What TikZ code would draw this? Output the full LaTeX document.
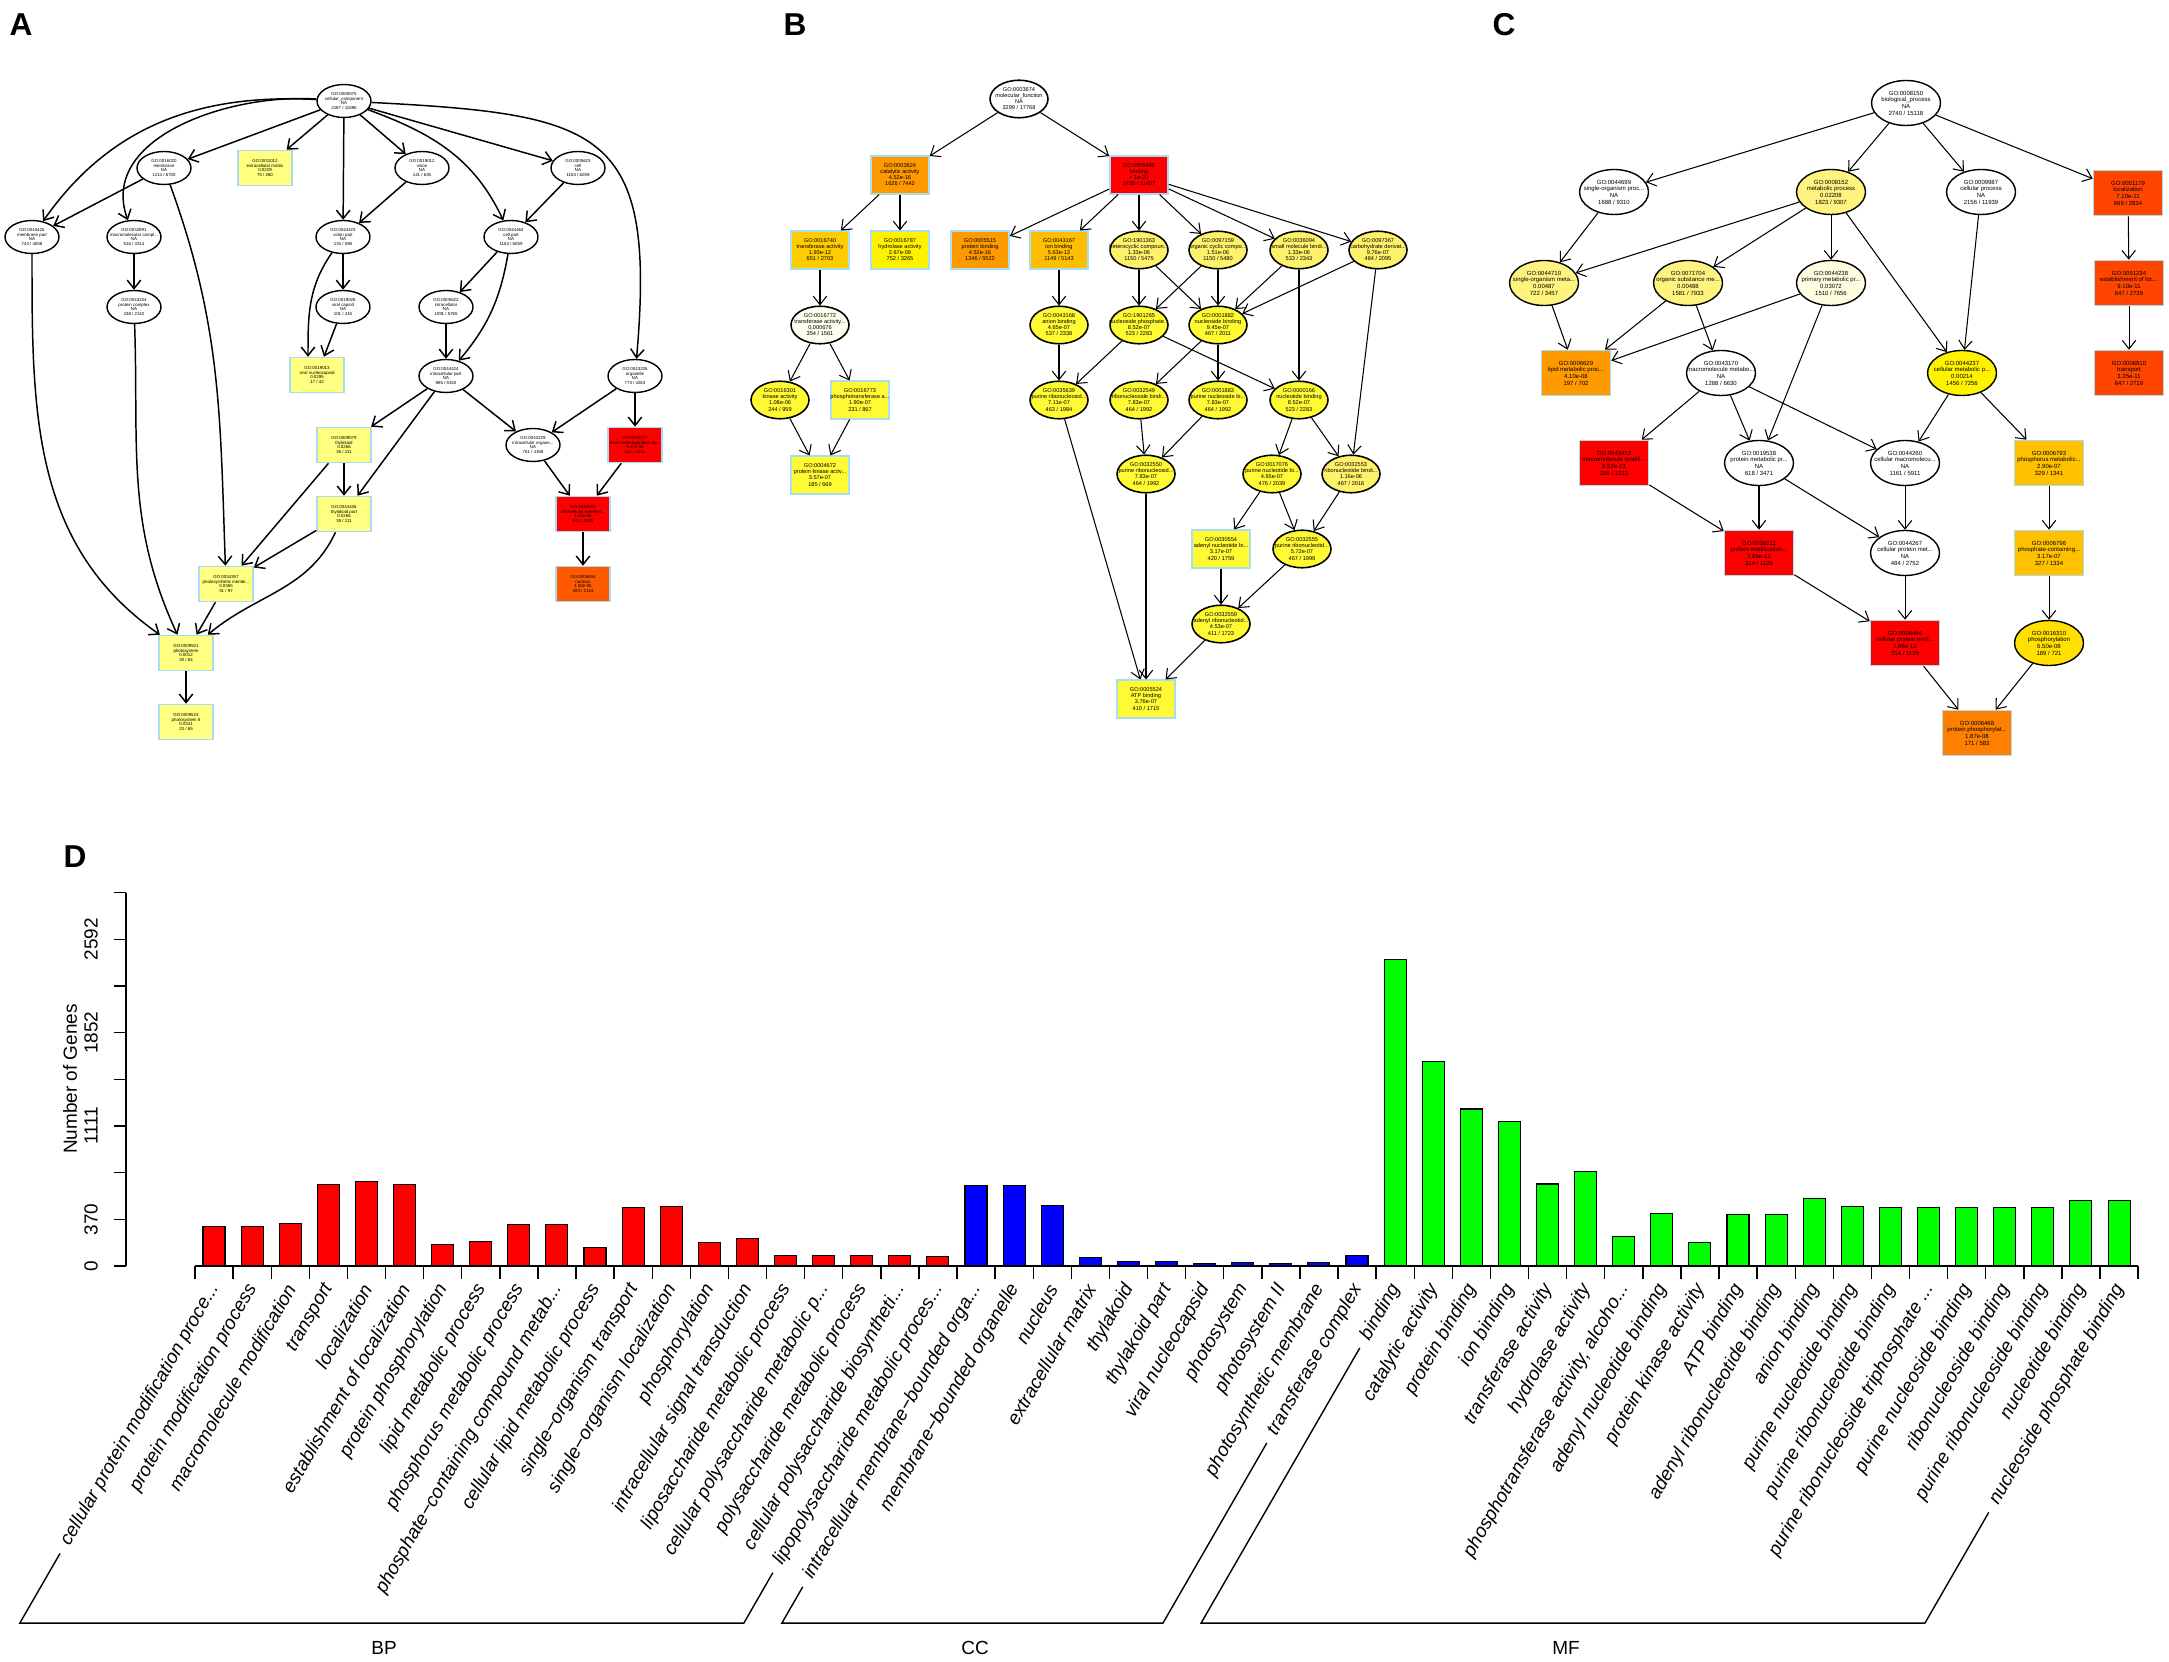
\documentclass[tikz,border=0pt]{standalone}
\usepackage{fontspec}
\setmainfont{Liberation Sans}
\usetikzlibrary{shapes.geometric,arrows.meta,calc}

\definecolor{boxline}{HTML}{A8DCF0}
\definecolor{yA}{HTML}{FFFF80}
\definecolor{nucA}{HTML}{FF5A00}
\definecolor{orB}{HTML}{FF9900}
\definecolor{goldB}{HTML}{FFCC00}
\definecolor{ambB}{HTML}{FFBF00}
\definecolor{ltB}{HTML}{FFF26B}
\definecolor{yB}{HTML}{FFFA33}
\definecolor{paleB}{HTML}{FFFFEE}
\definecolor{ltC}{HTML}{FFF37F}
\definecolor{paleC}{HTML}{FFFDE0}
\definecolor{yC}{HTML}{FFF200}
\definecolor{phC}{HTML}{FFE000}
\definecolor{locC}{HTML}{FF4500}
\definecolor{phosC}{HTML}{FFC000}
\definecolor{ppC}{HTML}{FF8000}
\definecolor{barBP}{HTML}{FF0000}
\definecolor{barCC}{HTML}{0000FF}
\definecolor{barMF}{HTML}{00FF00}
\newcommand{\trunc}{...}

\begin{document}
\begin{tikzpicture}[x=0.1mm, y=-0.1mm,
    >={Straight Barb[length=0.85mm,width=1.35mm]},
    gell/.style={ellipse, draw=black, inner sep=0pt},
    gbox/.style={rectangle, draw=boxline, line width=0.45pt, inner sep=0pt},
    ellA/.style={gell, line width=0.4pt, minimum width=5.4mm, minimum height=3.3mm},
    boxA/.style={gbox, minimum width=5.4mm, minimum height=3.5mm},
    ellB/.style={gell, line width=0.45pt, minimum width=5.8mm, minimum height=3.75mm},
    boxB/.style={gbox, minimum width=5.8mm, minimum height=3.75mm},
    ellC/.style={gell, line width=0.4pt, minimum width=6.9mm, minimum height=4.5mm},
    boxC/.style={gbox, minimum width=6.9mm, minimum height=4.5mm},
    tA/.style={font=\fontsize{1.25}{1.34}\selectfont, align=center, inner sep=0pt},
    tB/.style={font=\fontsize{1.6}{1.72}\selectfont, align=center, inner sep=0pt},
    tC/.style={font=\fontsize{1.7}{1.9}\selectfont, align=center, inner sep=0pt},
    eA/.style={->, line width=0.42pt},
    eB/.style={->, line width=0.3pt},
    panel/.style={font=\fontsize{9}{9}\selectfont\bfseries, inner sep=0pt},
    axln/.style={line width=0.4pt},
    axtxt/.style={font=\fontsize{5.4}{6}\selectfont, inner sep=0pt},
    barout/.style={draw=black, line width=0.3pt},
    barlbl/.style={rotate=60, anchor=east, inner sep=0pt, font=\fontsize{5.4}{6}\selectfont\itshape},
    bracket/.style={line width=0.4pt}]
  \useasboundingbox (0,0) rectangle (2169,1662);
  \fill[white] (0,0) rectangle (2169,1662);

  % panel A: cellular component
  \node[panel] (pA) at (21,25) {A};
  \node[ellA, fill=white, label={[tA]center:{GO:0005575\\cellular\_component\\NA\\2187 / 11895}}] (ccroot) at (344,101) {};
  \node[ellA, fill=white, label={[tA]center:{GO:0016020\\membrane\\NA\\1214 / 6700}}] (membrane) at (164,168) {};
  \node[boxA, fill=yA, label={[tA]center:{GO:0031012\\extracellular matrix\\0.0229\\70 / 260}}] (exmatrix) at (265,168) {};
  \node[ellA, fill=white, label={[tA]center:{GO:0019012\\virion\\NA\\141 / 635}}] (virion) at (422,168) {};
  \node[ellA, fill=white, label={[tA]center:{GO:0005623\\cell\\NA\\1163 / 6059}}] (cell) at (578,168) {};
  \node[ellA, fill=white, label={[tA]center:{GO:0044425\\membrane part\\NA\\744 / 4838}}] (mempart) at (32,237) {};
  \node[ellA, fill=white, label={[tA]center:{GO:0032991\\macromolecular compl...\\NA\\516 / 3314}}] (macrocomp) at (134,237) {};
  \node[ellA, fill=white, label={[tA]center:{GO:0044423\\virion part\\NA\\133 / 598}}] (virpart) at (343,237) {};
  \node[ellA, fill=white, label={[tA]center:{GO:0044464\\cell part\\NA\\1163 / 6059}}] (cellpart) at (511,237) {};
  \node[ellA, fill=white, label={[tA]center:{GO:0043234\\protein complex\\NA\\438 / 2142}}] (protcomp) at (134,307) {};
  \node[ellA, fill=white, label={[tA]center:{GO:0019028\\viral capsid\\NA\\101 / 415}}] (capsid) at (343,307) {};
  \node[ellA, fill=white, label={[tA]center:{GO:0005622\\intracellular\\NA\\1091 / 5765}}] (intra) at (446,307) {};
  \node[boxA, fill=yA, label={[tA]center:{GO:0019013\\viral nucleocapsid\\0.0295\\17 / 42}}] (nucleocap) at (317,375) {};
  \node[ellA, fill=white, label={[tA]center:{GO:0044424\\intracellular part\\NA\\985 / 5150}}] (intrapart) at (446,376) {};
  \node[ellA, fill=white, label={[tA]center:{GO:0043226\\organelle\\NA\\773 / 4263}}] (organelle) at (635,376) {};
  \node[boxA, fill=yA, label={[tA]center:{GO:0009579\\thylakoid\\0.0266\\35 / 111}}] (thyl) at (344,445) {};
  \node[ellA, fill=white, label={[tA]center:{GO:0043229\\intracellular organe...\\NA\\761 / 4198}}] (intraorg) at (533,445) {};
  \node[boxA, fill=red, label={[tA]center:{GO:0043227\\membrane-bounded org...\\9.37e-06\\641 / 2881}}] (membound) at (635,445) {};
  \node[boxA, fill=yA, label={[tA]center:{GO:0044436\\thylakoid part\\0.0266\\35 / 111}}] (thylpart) at (344,514) {};
  \node[boxA, fill=red, label={[tA]center:{GO:0043231\\intracellular membra...\\1.34e-06\\641 / 2880}}] (intramem) at (583,514) {};
  \node[boxA, fill=yA, label={[tA]center:{GO:0034357\\photosynthetic membr...\\0.0365\\31 / 97}}] (photomem) at (226,584) {};
  \node[boxA, fill=nucA, label={[tA]center:{GO:0005634\\nucleus\\1.50e-05\\483 / 2144}}] (nucleus) at (583,584) {};
  \node[boxA, fill=yA, label={[tA]center:{GO:0009521\\photosystem\\0.0012\\28 / 84}}] (psys) at (186,653) {};
  \node[boxA, fill=yA, label={[tA]center:{GO:0009523\\photosystem II\\0.0341\\23 / 65}}] (psys2) at (186,722) {};

  \draw[eA] (ccroot) to[out=177,in=55] (mempart);
  \draw[eA] (ccroot) to[out=176,in=110] (macrocomp);
  \draw[eA] (ccroot) -- (membrane);
  \draw[eA] (ccroot) -- (exmatrix);
  \draw[eA] (ccroot) -- (virpart);
  \draw[eA] (ccroot) -- (virion);
  \draw[eA] (ccroot) to[out=-20,in=115] (cellpart);
  \draw[eA] (ccroot) -- (cell);
  \draw[eA] (ccroot) to[out=-3,in=85,looseness=1.6] (organelle);
  \draw[eA] (membrane) -- (mempart);
  \draw[eA] (membrane) to[out=-70,in=92] (photomem);
  \draw[eA] (mempart) to[out=-90,in=145] (psys);
  \draw[eA] (macrocomp) -- (protcomp);
  \draw[eA] (protcomp) to[out=-88,in=115] (psys);
  \draw[eA] (virion) -- (virpart);
  \draw[eA] (virpart) -- (capsid);
  \draw[eA] (virpart) to[out=-125,in=90] ([xshift=-0.9mm]nucleocap.north);
  \draw[eA] (capsid) -- (nucleocap);
  \draw[eA] (cell) -- (cellpart);
  \draw[eA] (cellpart) -- (intra);
  \draw[eA] (cellpart) to[out=-100,in=50] (intrapart);
  \draw[eA] (intra) -- (intrapart);
  \draw[eA] (intrapart) -- (thyl);
  \draw[eA] (intrapart) -- (thylpart);
  \draw[eA] (intrapart) -- (intraorg);
  \draw[eA] (organelle) -- (intraorg);
  \draw[eA] (organelle) -- (membound);
  \draw[eA] (thyl) -- (thylpart);
  \draw[eA] (thyl) -- (photomem);
  \draw[eA] (thylpart) -- (photomem);
  \draw[eA] (thylpart) to[out=-115,in=40] (psys);
  \draw[eA] (photomem) -- (psys);
  \draw[eA] (psys) -- (psys2);
  \draw[eA] (intraorg) -- (intramem);
  \draw[eA] (membound) -- (intramem);
  \draw[eA] (intramem) -- (nucleus);

  % panel B: molecular function
  \node[panel] (pB) at (795,25) {B};
  \node[ellB, fill=white, label={[tB]center:{GO:0003674\\molecular\_function\\NA\\3299 / 17768}}] (mfroot) at (1019,99) {};
  \node[boxB, fill=orB, label={[tB]center:{GO:0003824\\catalytic activity\\4.52e-16\\1626 / 7442}}] (catal) at (900,175) {};
  \node[boxB, fill=red, label={[tB]center:{GO:0005488\\binding\\< 1e-20\\2430 / 11407}}] (bind) at (1139,175) {};
  \node[boxB, fill=goldB, label={[tB]center:{GO:0016740\\transferase activity\\1.93e-12\\651 / 2703}}] (transf) at (820,250) {};
  \node[boxB, fill=yellow, label={[tB]center:{GO:0016787\\hydrolase activity\\2.67e-09\\752 / 3265}}] (hydro) at (900,250) {};
  \node[boxB, fill=orB, label={[tB]center:{GO:0005515\\protein binding\\4.52e-16\\1246 / 5522}}] (protbind) at (980,250) {};
  \node[boxB, fill=ambB, label={[tB]center:{GO:0043167\\ion binding\\5.63e-13\\1149 / 5143}}] (ionbind) at (1059,250) {};
  \node[ellB, fill=ltB, label={[tB]center:{GO:1901363\\heterocyclic compoun...\\1.33e-06\\1150 / 5475}}] (hetero) at (1139,250) {};
  \node[ellB, fill=ltB, label={[tB]center:{GO:0097159\\organic cyclic compo...\\1.51e-06\\1150 / 5480}}] (orgcyc) at (1218,250) {};
  \node[ellB, fill=ltB, label={[tB]center:{GO:0036094\\small molecule bindi...\\1.33e-06\\533 / 2343}}] (smallmol) at (1299,250) {};
  \node[ellB, fill=ltB, label={[tB]center:{GO:0097367\\carbohydrate derivat...\\9.76e-07\\484 / 2095}}] (carbo) at (1378,250) {};
  \node[ellB, fill=paleB, label={[tB]center:{GO:0016772\\transferase activity...\\0.000676\\354 / 1561}}] (transf2) at (820,325) {};
  \node[ellB, fill=yB, label={[tB]center:{GO:0043168\\anion binding\\4.65e-07\\537 / 2338}}] (anion) at (1059,325) {};
  \node[ellB, fill=yB, label={[tB]center:{GO:1901265\\nucleoside phosphate...\\8.52e-07\\523 / 2283}}] (nucphos) at (1139,325) {};
  \node[ellB, fill=yB, label={[tB]center:{GO:0001882\\nucleoside binding\\9.45e-07\\467 / 2011}}] (nucsbind) at (1218,325) {};
  \node[ellB, fill=yB, label={[tB]center:{GO:0016301\\kinase activity\\1.08e-06\\244 / 959}}] (kinase) at (780,400) {};
  \node[boxB, fill=yB, label={[tB]center:{GO:0016773\\phosphotransferase a...\\1.90e-07\\231 / 867}}] (phostr) at (860,400) {};
  \node[ellB, fill=yB, label={[tB]center:{GO:0035639\\purine ribonucleosid...\\7.11e-07\\463 / 1984}}] (purribs) at (1059,400) {};
  \node[ellB, fill=yB, label={[tB]center:{GO:0032549\\ribonucleoside bindi...\\7.83e-07\\464 / 1992}}] (ribsbind) at (1139,400) {};
  \node[ellB, fill=yB, label={[tB]center:{GO:0001883\\purine nucleoside bi...\\7.83e-07\\464 / 1992}}] (purnucs) at (1218,400) {};
  \node[ellB, fill=yB, label={[tB]center:{GO:0000166\\nucleotide binding\\8.52e-07\\523 / 2283}}] (nuctbind) at (1299,400) {};
  \node[boxB, fill=yB, label={[tB]center:{GO:0004672\\protein kinase activ...\\3.57e-07\\185 / 669}}] (protkin) at (820,475) {};
  \node[ellB, fill=yB, label={[tB]center:{GO:0032550\\purine ribonucleosid...\\7.83e-07\\464 / 1992}}] (purribs2) at (1146,474) {};
  \node[ellB, fill=yB, label={[tB]center:{GO:0017076\\purine nucleotide bi...\\4.65e-07\\476 / 2039}}] (purnuct) at (1272,474) {};
  \node[ellB, fill=ltB, label={[tB]center:{GO:0032553\\ribonucleotide bindi...\\1.16e-06\\467 / 2016}}] (ribtbind) at (1351,474) {};
  \node[boxB, fill=yB, label={[tB]center:{GO:0030554\\adenyl nucleotide bi...\\3.17e-07\\420 / 1759}}] (adenyl) at (1221,549) {};
  \node[ellB, fill=yB, label={[tB]center:{GO:0032555\\purine ribonucleotid...\\5.72e-07\\467 / 1999}}] (purribt) at (1302,549) {};
  \node[ellB, fill=yB, label={[tB]center:{GO:0032559\\adenyl ribonucleotid...\\4.53e-07\\411 / 1723}}] (adenylr) at (1221,624) {};
  \node[boxB, fill=yB, label={[tB]center:{GO:0005524\\ATP binding\\3.76e-07\\410 / 1715}}] (atp) at (1146,699) {};

  \draw[eB] (mfroot) -- (catal);
  \draw[eB] (mfroot) -- (bind);
  \draw[eB] (catal) -- (transf);
  \draw[eB] (catal) -- (hydro);
  \draw[eB] (transf) -- (transf2);
  \draw[eB] (transf2) -- (kinase);
  \draw[eB] (transf2) -- (phostr);
  \draw[eB] (kinase) -- (protkin);
  \draw[eB] (phostr) -- (protkin);
  \draw[eB] (bind) -- (protbind);
  \draw[eB] (bind) -- (ionbind);
  \draw[eB] (bind) -- (hetero);
  \draw[eB] (bind) -- (orgcyc);
  \draw[eB] (bind) -- (smallmol);
  \draw[eB] (bind) -- (carbo);
  \draw[eB] (ionbind) -- (anion);
  \draw[eB] (hetero) -- (nucphos);
  \draw[eB] (hetero) -- (nucsbind);
  \draw[eB] (orgcyc) -- (nucphos);
  \draw[eB] (orgcyc) -- (nucsbind);
  \draw[eB] (smallmol) -- (nucsbind);
  \draw[eB] (smallmol) -- (nuctbind);
  \draw[eB] (carbo) -- (nucsbind);
  \draw[eB] (carbo) -- (ribtbind);
  \draw[eB] (anion) -- (purribs);
  \draw[eB] (nucphos) -- (purribs);
  \draw[eB] (nucphos) -- (nuctbind);
  \draw[eB] (nucsbind) -- (ribsbind);
  \draw[eB] (nucsbind) -- (purnucs);
  \draw[eB] (purribs) -- (atp);
  \draw[eB] (ribsbind) -- (purribs2);
  \draw[eB] (purnucs) -- (purribs2);
  \draw[eB] (nuctbind) -- (purnuct);
  \draw[eB] (nuctbind) -- (ribtbind);
  \draw[eB] (purnuct) -- (adenyl);
  \draw[eB] (purnuct) -- (purribt);
  \draw[eB] (ribtbind) -- (purribt);
  \draw[eB] (adenyl) -- (adenylr);
  \draw[eB] (purribt) -- (adenylr);
  \draw[eB] (purribs2) -- (atp);
  \draw[eB] (adenylr) -- (atp);

  % panel C: biological process
  \node[panel] (pC) at (1504,25) {C};
  \node[ellC, fill=white, label={[tC]center:{GO:0008150\\biological\_process\\NA\\2740 / 15118}}] (bproot) at (1906,103) {};
  \node[ellC, fill=white, label={[tC]center:{GO:0044699\\single-organism proc...\\NA\\1688 / 9310}}] (sorg) at (1614,192) {};
  \node[ellC, fill=ltC, label={[tC]center:{GO:0008152\\metabolic process\\0.02208\\1823 / 9307}}] (metab) at (1831,192) {};
  \node[ellC, fill=white, label={[tC]center:{GO:0009987\\cellular process\\NA\\2156 / 11939}}] (cellproc) at (1981,192) {};
  \node[boxC, fill=locC, label={[tC]center:{GO:0051179\\localization\\7.10e-11\\669 / 2834}}] (loc) at (2128,193) {};
  \node[ellC, fill=ltC, label={[tC]center:{GO:0044710\\single-organism meta...\\0.00487\\722 / 3457}}] (sorgmet) at (1544,283) {};
  \node[ellC, fill=ltC, label={[tC]center:{GO:0071704\\organic substance me...\\0.00488\\1581 / 7933}}] (orgsub) at (1688,283) {};
  \node[ellC, fill=paleC, label={[tC]center:{GO:0044238\\primary metabolic pr...\\0.03072\\1510 / 7656}}] (primet) at (1831,283) {};
  \node[boxC, fill=locC, label={[tC]center:{GO:0051234\\establishment of loc...\\9.10e-11\\647 / 2735}}] (estloc) at (2129,283) {};
  \node[boxC, fill=orB, label={[tC]center:{GO:0006629\\lipid metabolic proc...\\4.10e-08\\197 / 702}}] (lipid) at (1576,373) {};
  \node[ellC, fill=white, label={[tC]center:{GO:0043170\\macromolecule metabo...\\NA\\1288 / 6630}}] (macromet) at (1721,373) {};
  \node[ellC, fill=yC, label={[tC]center:{GO:0044237\\cellular metabolic p...\\0.00214\\1456 / 7256}}] (cellmet) at (1962,373) {};
  \node[boxC, fill=locC, label={[tC]center:{GO:0006810\\transport\\3.35e-11\\647 / 2719}}] (transport) at (2129,373) {};
  \node[boxC, fill=red, label={[tC]center:{GO:0043412\\macromolecule modifi...\\8.52e-13\\336 / 1223}}] (macromod) at (1614,463) {};
  \node[ellC, fill=white, label={[tC]center:{GO:0019538\\protein metabolic pr...\\NA\\618 / 3471}}] (protmet) at (1759,463) {};
  \node[ellC, fill=white, label={[tC]center:{GO:0044260\\cellular macromolecu...\\NA\\1161 / 5911}}] (cellmacro) at (1905,463) {};
  \node[boxC, fill=phosC, label={[tC]center:{GO:0006793\\phosphorus metabolic...\\2.90e-07\\329 / 1341}}] (phosmet) at (2049,463) {};
  \node[boxC, fill=red, label={[tC]center:{GO:0036211\\protein modification...\\7.86e-13\\314 / 1125}}] (protmod) at (1759,553) {};
  \node[ellC, fill=white, label={[tC]center:{GO:0044267\\cellular protein met...\\NA\\484 / 2752}}] (cellprot) at (1905,553) {};
  \node[boxC, fill=phosC, label={[tC]center:{GO:0006796\\phosphate-containing...\\3.17e-07\\327 / 1334}}] (phoscont) at (2049,553) {};
  \node[boxC, fill=red, label={[tC]center:{GO:0006464\\cellular protein mod...\\7.86e-13\\314 / 1125}}] (cellprotmod) at (1905,643) {};
  \node[ellC, fill=phC, label={[tC]center:{GO:0016310\\phosphorylation\\6.50e-08\\189 / 721}}] (phosph) at (2049,643) {};
  \node[boxC, fill=ppC, label={[tC]center:{GO:0006468\\protein phosphorylat...\\1.87e-08\\171 / 583}}] (protphos) at (1977,733) {};

  \draw[eB] (bproot) -- (sorg);
  \draw[eB] (bproot) -- (metab);
  \draw[eB] (bproot) -- (cellproc);
  \draw[eB] (bproot) -- (loc);
  \draw[eB] (sorg) -- (sorgmet);
  \draw[eB] (metab) -- (sorgmet);
  \draw[eB] (metab) -- (orgsub);
  \draw[eB] (metab) -- (primet);
  \draw[eB] (metab) -- (cellmet);
  \draw[eB] (cellproc) -- (cellmet);
  \draw[eB] (loc) -- (estloc);
  \draw[eB] (estloc) -- (transport);
  \draw[eB] (sorgmet) -- (lipid);
  \draw[eB] (orgsub) -- (lipid);
  \draw[eB] (orgsub) -- (macromet);
  \draw[eB] (primet) -- (lipid);
  \draw[eB] (primet) -- (protmet);
  \draw[eB] (macromet) -- (macromod);
  \draw[eB] (macromet) -- (protmet);
  \draw[eB] (macromet) -- (cellmacro);
  \draw[eB] (cellmet) -- (cellmacro);
  \draw[eB] (cellmet) -- (phosmet);
  \draw[eB] (macromod) -- (protmod);
  \draw[eB] (protmet) -- (protmod);
  \draw[eB] (protmet) -- (cellprot);
  \draw[eB] (cellmacro) -- (cellprot);
  \draw[eB] (phosmet) -- (phoscont);
  \draw[eB] (protmod) -- (cellprotmod);
  \draw[eB] (cellprot) -- (cellprotmod);
  \draw[eB] (phoscont) -- (phosph);
  \draw[eB] (cellprotmod) -- (protphos);
  \draw[eB] (phosph) -- (protphos);

  % panel D: bar chart
  \node[panel] (pD) at (75,857) {D};
  \foreach \i/\val in {20/74,19/82,18/87,17/82,16/87,15/217,14/189,13/476,12/466,11/148,
      10/327,9/329,8/197,7/171,6/647,5/669,4/647,3/336,2/314,1/314}
    \draw[barout, fill=barBP] ({214+38.1*(\i-1)-11},1266) rectangle ++(22,{-\val/7.937});
  \foreach \val [count=\i from 21] in {641,641,483,70,35,35,17,28,23,31,82}
    \draw[barout, fill=barCC] ({214+38.1*(\i-1)-11},1266) rectangle ++(22,{-\val/7.937});
  \foreach \val [count=\i from 32] in {2430,1626,1246,1149,651,752,231,420,185,410,411,537,476,467,464,464,464,463,523,523}
    \draw[barout, fill=barMF] ({214+38.1*(\i-1)-11},1266) rectangle ++(22,{-\val/7.937});

  \foreach \lbl [count=\i] in {cellular protein modification proce\trunc,
      protein modification process, macromolecule modification,
      transport, localization, establishment of localization,
      protein phosphorylation, lipid metabolic process,
      phosphorus metabolic process, phosphate−containing compound metab\trunc,
      cellular lipid metabolic process, single−organism transport,
      single−organism localization, phosphorylation,
      intracellular signal transduction, liposaccharide metabolic process,
      cellular polysaccharide metabolic p\trunc, polysaccharide metabolic process,
      cellular polysaccharide biosyntheti\trunc, lipopolysaccharide metabolic proces\trunc,
      intracellular membrane−bounded orga\trunc,
      membrane−bounded organelle, nucleus, extracellular matrix,
      thylakoid, thylakoid part, viral nucleocapsid, photosystem,
      photosystem II, photosynthetic membrane, transferase complex,
      binding, catalytic activity,
      protein binding, ion binding, transferase activity,
      hydrolase activity, {phosphotransferase activity, alcoho\trunc},
      adenyl nucleotide binding, protein kinase activity, ATP binding,
      adenyl ribonucleotide binding, anion binding,
      purine nucleotide binding, purine ribonucleotide binding,
      purine ribonucleoside triphosphate \trunc, purine nucleoside binding,
      ribonucleoside binding, purine ribonucleoside binding,
      nucleotide binding, nucleoside phosphate binding}
    \node[barlbl] (l\i) at ({214+38.1*(\i-1)+1},1285) {\lbl};
  \draw[axln] (195,1266) -- (2138,1266);
  \foreach \k in {0,...,51}
    \draw[axln] ({195+38.1*\k},1266) -- ++(0,13);
  \draw[axln] (126,1266) -- (126,892.7);
  \foreach \k in {0,...,8}
    \draw[axln] (126,{1266-46.67*\k}) -- ++(-12,0);
  \foreach \k/\lab in {0/0,1/370,3/1111,5/1852,7/2592}
    \node[axtxt, rotate=90] (y\k) at (91,{1266-46.67*\k}) {\lab};
  \node[axtxt, rotate=90] (ytitle) at (70,1079) {Number of Genes};

  \draw[bracket] ($(l1.west)!-1mm!(l1.east)$) -- (intersection of l1.west--l1.east and 0,1623--100,1623)
    -- (intersection of l20.west--l20.east and 0,1623--100,1623) -- ($(l20.west)!-1mm!(l20.east)$);
  \draw[bracket] ($(l21.west)!-1mm!(l21.east)$) -- (intersection of l21.west--l21.east and 0,1623--100,1623)
    -- (intersection of l31.west--l31.east and 0,1623--100,1623) -- ($(l31.west)!-1mm!(l31.east)$);
  \draw[bracket] ($(l32.west)!-1mm!(l32.east)$) -- (intersection of l32.west--l32.east and 0,1623--100,1623)
    -- (intersection of l51.west--l51.east and 0,1623--100,1623) -- ($(l51.west)!-1mm!(l51.east)$);
  \node[axtxt] (gBP) at (384,1648) {BP};
  \node[axtxt] (gCC) at (975,1648) {CC};
  \node[axtxt] (gMF) at (1566,1648) {MF};
\end{tikzpicture}
\end{document}
